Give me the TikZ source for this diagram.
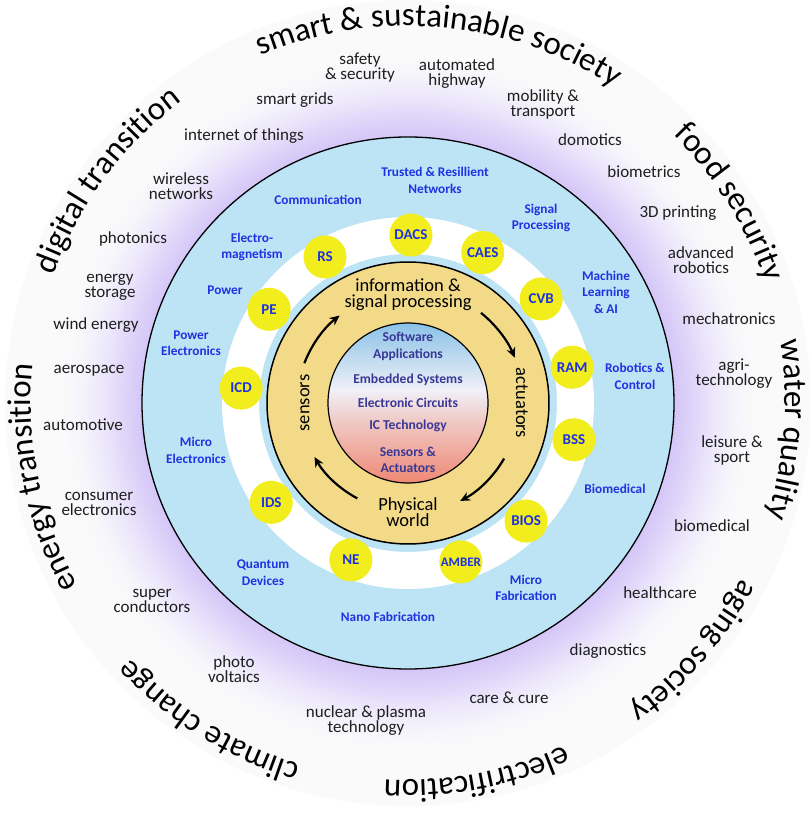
\documentclass[tikz,border=0pt]{standalone}
\usepackage{fontspec}
\setmainfont{Carlito}
\usetikzlibrary{arrows.meta,decorations.text}

\definecolor{ringblue}{RGB}{189,228,245}
\definecolor{tanfill}{RGB}{242,218,136}
\definecolor{groupyellow}{RGB}{242,237,28}
\definecolor{fieldblue}{RGB}{30,50,226}
\definecolor{techblue}{RGB}{56,56,150}
\definecolor{labelgray}{RGB}{30,30,30}
\definecolor{halopurple}{RGB}{212,198,247}
\definecolor{halomid}{RGB}{222,212,249}
\definecolor{halolight}{RGB}{236,231,251}
\definecolor{halofaint}{RGB}{246,245,251}
\definecolor{outergray}{RGB}{250,250,250}
\definecolor{gradtop}{RGB}{138,194,232}
\definecolor{gradmid}{RGB}{240,240,247}
\definecolor{gradpink}{RGB}{240,200,196}
\definecolor{gradbot}{RGB}{239,136,115}

\pgfdeclareradialshading{halo}{\pgfpointorigin}{color(0bp)=(halopurple); color(16.5bp)=(halopurple); color(17.6bp)=(halomid); color(19bp)=(halolight); color(20.4bp)=(halofaint); color(21.5bp)=(outergray); color(50bp)=(outergray)}
\pgfdeclareverticalshading{techgrad}{100bp}{color(0bp)=(gradbot); color(25bp)=(gradbot); color(44bp)=(gradpink); color(54bp)=(gradmid); color(75bp)=(gradtop); color(100bp)=(gradtop)}

\newcommand{\arcfont}{\fontsize{33}{33}\selectfont}

\tikzset{
	applabel/.style={align=center, text=labelgray, font=\fontsize{17}{15}\selectfont},
	fieldlabel/.style={align=center, text=fieldblue, font=\bfseries\fontsize{13.3}{16.5}\selectfont},
	groupdot/.style={circle, fill=groupyellow, minimum size=43pt, inner sep=0pt, text=fieldblue, font=\bfseries\fontsize{15}{16}\selectfont},
	techlabel/.style={align=center, text=techblue, font=\bfseries\fontsize{13.6}{16.5}\selectfont},
	cyclelabel/.style={align=center, font=\fontsize{18.5}{16}\selectfont},
	cyclearrow/.style={line width=2.2pt, -{Stealth[length=10pt,width=9pt]}},
	arctext/.style={decorate, decoration={text along path, text align=center, text={|\arcfont|#1}}}
}

\begin{document}
\begin{tikzpicture}[x=1pt,y=1pt]
		\useasboundingbox (-408,-413) rectangle (402,403);
		
		% rings
		\shade[shading=halo] (0,0) circle (403);
		\draw[fill=ringblue, line width=1.3pt] (0,0) circle (266);
		\draw[white, line width=37pt] (0,0) circle (167.5);
		\draw[fill=tanfill, line width=1.5pt] (0,0) circle (141);
		\shade[shading=techgrad] (0,0) circle (80);
		\draw[line width=1.2pt] (0,0) circle (80);
		
		% societal themes
		\path[arctext={smart {\&} sustainable society}] (125:377) arc[start angle=125, end angle=45, radius=377];
		\path[arctext={digital transition}] (175:377) arc[start angle=175, end angle=112, radius=377];
		\path[arctext={food security}] (64:377) arc[start angle=64, end angle=0, radius=377];
		\path[arctext={water quality}] (28:377) arc[start angle=28, end angle=-36, radius=377];
		\path[arctext={aging society}] (-9:377) arc[start angle=-9, end angle=-73, radius=377];
		\path[arctext={electrification}] (-47:377) arc[start angle=-47, end angle=-112, radius=377];
		\path[arctext={climate change}] (-90:377) arc[start angle=-90, end angle=-154, radius=377];
		\path[arctext={energy transition}] (-136:377) arc[start angle=-136, end angle=-201, radius=377];
		
		% application areas
		\node[applabel] (safety) at (-48,335) {safety\\\& security};
		\node[applabel] (highway) at (49,329) {automated\\highway};
		\node[applabel] (grids) at (-113,303) {smart grids};
		\node[applabel] (mobility) at (135,298.5) {mobility \&\\transport};
		\node[applabel] (iot) at (-164,267) {internet of things};
		\node[applabel] (domotics) at (182,263) {domotics};
		\node[applabel] (wireless) at (-227,217) {wireless\\networks};
		\node[applabel] (biometrics) at (236,231) {biometrics};
		\node[applabel] (photonics) at (-275,164) {photonics};
		\node[applabel] (printing) at (270,190) {3D printing};
		\node[applabel] (storage) at (-298,115.5) {energy\\storage};
		\node[applabel] (robotics) at (293,142.5) {advanced\\robotics};
		\node[applabel] (wind) at (-312,78) {wind energy};
		\node[applabel] (mechatronics) at (321,84) {mechatronics};
		\node[applabel] (aerospace) at (-319,32) {aerospace};
		\node[applabel] (agri) at (326,29.5) {agri-\\technology};
		\node[applabel] (automotive) at (-325,-22) {automotive};
		\node[applabel] (leisure) at (324,-47.5) {leisure \&\\sport};
		\node[applabel] (consumer) at (-309,-100.5) {consumer\\electronics};
		\node[applabel] (biomed) at (304,-123) {biomedical};
		\node[applabel] (super) at (-256,-198) {super\\conductors};
		\node[applabel] (healthcare) at (252,-190) {healthcare};
		\node[applabel] (photovolt) at (-174,-266.5) {photo\\voltaics};
		\node[applabel] (diagnostics) at (200,-248) {diagnostics};
		\node[applabel] (nuclear) at (-42,-318) {nuclear \& plasma\\technology};
		\node[applabel] (care) at (101,-295) {care \& cure};
		
		% research fields
		\node[fieldlabel] (trusted) at (27,222.5) {Trusted \& Resillient\\Networks};
		\node[fieldlabel] (comm) at (-90,203) {Communication};
		\node[fieldlabel] (signal) at (133,185) {Signal\\Processing};
		\node[fieldlabel] (em) at (-156,156) {Electro-\\magnetism};
		\node[fieldlabel] (ml) at (198,111) {Machine\\Learning\\\& AI};
		\node[fieldlabel] (power) at (-183,113) {Power};
		\node[fieldlabel] (powerel) at (-217,60) {Power\\Electronics};
		\node[fieldlabel] (control) at (227,26.5) {Robotics \&\\Control};
		\node[fieldlabel] (microel) at (-212,-47.5) {Micro\\Electronics};
		\node[fieldlabel] (biomedical) at (207,-86) {Biomedical};
		\node[fieldlabel] (quantum) at (-145,-169.5) {Quantum\\Devices};
		\node[fieldlabel] (microfab) at (118,-185) {Micro\\Fabrication};
		\node[fieldlabel] (nanofab) at (-20,-214) {Nano Fabrication};
		
		% groups
		\node[groupdot] (dacs) at (89:168) {DACS};
		\node[groupdot] (caes) at (63.6:168) {CAES};
		\node[groupdot] (cvb) at (38:169) {CVB};
		\node[groupdot] (ram) at (12.3:168) {RAM};
		\node[groupdot] (bss) at (-12.5:170) {BSS};
		\node[groupdot] (bios) at (-45:167) {BIOS};
		\node[groupdot, font=\bfseries\fontsize{13}{14}\selectfont] (amber) at (-71.6:167.5) {AMBER};
		\node[groupdot] (ne) at (-110:167) {NE};
		\node[groupdot] (ids) at (-144:169) {IDS};
		\node[groupdot] (icd) at (174.9:167.5) {ICD};
		\node[groupdot] (pe) at (146:167.5) {PE};
		\node[groupdot] (rs) at (119.6:168) {RS};
		
		% technology stack
		\node[techlabel] (software) at (0,56.5) {Software\\Applications};
		\node[techlabel] (embedded) at (0,23) {Embedded Systems};
		\node[techlabel] (circuits) at (0,0) {Electronic Circuits};
		\node[techlabel] (ictech) at (0,-23) {IC Technology};
		\node[techlabel] (sensact) at (0,-57) {Sensors \&\\Actuators};
		
		% cycle
		\node[cyclelabel] (info) at (0,108) {information \&\\signal processing};
		\node[cyclelabel] (world) at (0,-109.5) {Physical\\world};
		\node[cyclelabel, rotate=90] (sensors) at (-103,0) {sensors};
		\node[cyclelabel, rotate=-90] (actuators) at (114,0) {actuators};
		\draw[cyclearrow] (159:111) arc[start angle=159, end angle=128, radius=111];
		\draw[cyclearrow] (51:116) arc[start angle=51, end angle=23, radius=116];
		\draw[cyclearrow] (-30:111) arc[start angle=-30, end angle=-62, radius=111];
		\draw[cyclearrow] (-118:108) arc[start angle=-118, end angle=-150, radius=108];
\end{tikzpicture}
\end{document}
